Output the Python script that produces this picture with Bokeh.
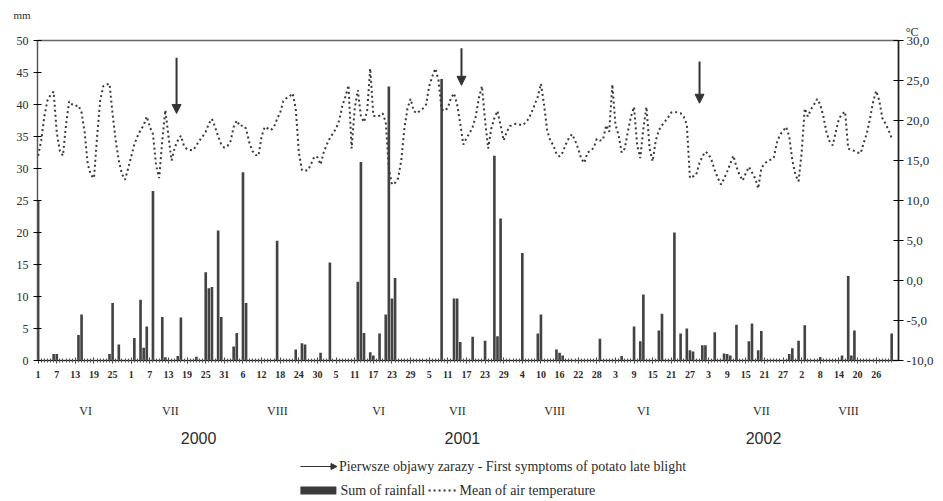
from bokeh.plotting import figure
from bokeh.layouts import column
from bokeh.models import Range1d, LinearAxis, FixedTicker, Arrow, NormalHead, ColumnDataSource, Title
from bokeh.core.properties import value
from bokeh.embed import file_html
from bokeh.resources import INLINE

# ---------------- data ----------------
# daily rainfall (mm), 1 June - 31 August
rain_2000 = [25.0, 0, 0, 0, 0, 1.0, 1.0, 0, 0, 0,
             0, 0, 0, 4.0, 7.2, 0, 0, 0, 0, 0,
             0, 0, 0, 1.0, 9.0, 0, 2.5, 0, 0, 0,
             0, 3.5, 0, 9.5, 2.0, 5.3, 0, 26.5, 0, 0,
             6.8, 0.5, 0, 0, 0, 0.7, 6.7, 0, 0, 0,
             0, 0.6, 0, 0, 13.8, 11.3, 11.5, 0, 20.3, 6.8,
             0, 0, 0, 2.2, 4.3, 0, 29.4, 9.0, 0, 0,
             0, 0, 0, 0, 0, 0, 0, 18.7, 0, 0,
             0, 0, 0, 1.7, 0, 2.7, 2.5, 0, 0, 0,
             0, 1.2]
rain_2001 = [0, 0, 15.3, 0, 0, 0, 0, 0, 0, 0,
             0, 12.3, 31.0, 4.3, 0, 1.3, 0.8, 0, 4.2, 0,
             7.2, 42.8, 9.7, 12.9, 0, 0, 0, 0, 0, 0,
             0, 0, 0, 0, 0, 0, 0, 0, 44.0, 0,
             0, 0, 9.7, 9.7, 2.9, 0, 0, 0, 3.7, 0,
             0, 0, 3.1, 0, 0, 32.0, 3.8, 22.2, 0, 0,
             0, 0, 0, 0, 16.8, 0, 0, 0, 0, 4.2,
             7.2, 0, 0, 0, 0, 1.7, 1.2, 0.8, 0, 0,
             0, 0, 0, 0, 0, 0, 0, 0, 0, 3.4,
             0, 0]
rain_2002 = [0, 0, 0, 0, 0.7, 0, 0, 0, 5.3, 0,
             3.0, 10.3, 0, 0, 0, 0, 4.7, 7.3, 0, 0,
             0, 20.0, 0, 4.2, 0, 5.0, 1.6, 1.4, 0, 0,
             2.4, 2.4, 0, 0, 4.4, 0, 0, 1.1, 1.0, 0.8,
             0, 5.6, 0, 0, 0, 3.0, 5.8, 0, 1.6, 4.6,
             0, 0, 0, 0, 0, 0, 0, 0, 1.0, 1.9,
             0, 3.1, 0, 5.5, 0, 0, 0, 0, 0.5, 0,
             0, 0, 0, 0, 0, 0.8, 0, 13.2, 0.8, 4.7,
             0, 0, 0, 0, 0, 0, 0, 0, 0, 0,
             0, 4.2]

# daily mean air temperature (deg C)
temp_2000 = [15.6, 17.5, 20.5, 22.5, 23.2, 23.6, 18.5, 16.2, 15.6, 19.5,
             22.4, 22.0, 21.8, 21.9, 21.0, 18.5, 14.5, 13.2, 12.8, 18.0,
             22.5, 24.3, 24.5, 24.6, 20.8, 17.5, 15.0, 13.3, 12.6, 14.0,
             15.5, 17.0, 18.0, 18.8, 19.4, 20.5, 19.2, 18.3, 14.4, 12.8,
             17.5, 21.3, 18.0, 15.0, 16.6, 17.5, 18.1, 16.8, 16.4, 16.3,
             16.3, 16.9, 17.5, 18.0, 18.6, 19.6, 20.2, 19.2, 18.0, 17.0,
             16.6, 16.8, 17.4, 19.2, 20.0, 19.3, 19.4, 19.0, 17.3, 16.2,
             15.7, 15.6, 18.0, 19.2, 19.0, 18.8, 19.2, 20.2, 21.0, 22.4,
             22.8, 23.0, 23.4, 21.5, 16.0, 13.8, 13.7, 13.8, 14.6, 15.5,
             15.4, 14.5]
temp_2001 = [16.0, 17.0, 17.8, 18.4, 19.0, 20.0, 21.8, 23.0, 24.4, 16.5,
             21.5, 23.8, 20.5, 19.8, 21.2, 26.5, 20.6, 20.5, 20.6, 20.9,
             19.8, 14.0, 12.0, 12.2, 12.8, 15.0, 19.0, 21.5, 22.7, 21.2,
             20.9, 21.2, 21.5, 22.0, 24.3, 25.5, 26.5, 25.0, 21.4, 21.2,
             21.6, 22.8, 23.4, 22.0, 19.6, 17.0, 17.8, 18.4, 19.2, 20.5,
             22.8, 24.3, 20.0, 16.5, 19.0, 20.3, 21.2, 19.4, 17.5, 18.6,
             19.3, 19.5, 19.6, 19.5, 19.4, 19.7, 20.2, 21.0, 22.0, 23.0,
             24.6, 22.0, 18.8, 17.5, 16.9, 15.8, 15.5, 16.0, 17.0, 17.8,
             18.3, 17.5, 16.5, 15.2, 14.7, 16.0, 16.2, 16.6, 17.7, 17.5,
             17.6, 19.4]
temp_2002 = [18.6, 24.5, 19.5, 18.2, 16.0, 16.5, 18.6, 20.5, 21.7, 16.9,
             15.3, 19.0, 21.7, 16.5, 14.9, 17.5, 18.8, 19.4, 19.9, 20.4,
             21.0, 21.1, 21.0, 20.9, 20.5, 19.5, 12.8, 13.0, 13.2, 14.6,
             15.5, 16.1, 15.8, 15.0, 13.8, 12.8, 12.0, 12.7, 13.6, 14.6,
             15.6, 14.2, 13.2, 12.5, 13.4, 14.2, 13.5, 12.8, 11.5, 14.0,
             14.6, 14.9, 15.1, 15.3, 17.2, 18.2, 18.7, 19.2, 18.0, 15.0,
             13.2, 12.4, 16.0, 21.5, 20.5, 21.4, 22.0, 22.7, 22.0, 20.5,
             18.5, 17.4, 16.9, 18.6, 20.2, 20.8, 21.1, 16.5, 16.3, 16.2,
             16.0, 15.9, 17.2, 18.4, 20.2, 22.3, 23.7, 22.5, 20.3, 19.6,
             18.8, 17.8]

# day-of-month labels every 6th day
x_tick_labels = ["1", "7", "13", "19", "25", "1", "7", "13", "19", "25", "31",
                 "6", "12", "18", "24", "30",
                 "5", "11", "17", "23", "29", "5", "11", "17", "23", "29",
                 "4", "10", "16", "22", "28",
                 "3", "9", "15", "21", "27", "3", "9", "15", "21", "27",
                 "2", "8", "14", "20", "26"]
months = ["VI", "VII", "VIII", "VI", "VII", "VIII", "VI", "VII", "VIII"]
month_pos = [16.3, 43.6, 78.1, 110.7, 136.1, 167.4, 196.0, 234.0, 262.1]
years = ["2000", "2001", "2002"]
year_pos = [52.7, 137.7, 234.7]
# first symptoms of potato late blight (day index; arrow top and tip on the mm scale)
symptom_day = [45.6, 137.4, 214.1]
symptom_top = [47.3, 48.8, 46.7]
symptom_tip = [38.6, 43.0, 40.2]

left_ticks = [0, 5, 10, 15, 20, 25, 30, 35, 40, 45, 50]
right_ticks = [-10, -5, 0, 5, 10, 15, 20, 25, 30]
right_labels = ["-10,0", "-5,0", "0,0", "5,0", "10,0", "15,0", "20,0", "25,0", "30,0"]

# ---------------- build ----------------
rain = rain_2000 + rain_2001 + rain_2002
temp = temp_2000 + temp_2001 + temp_2002
days = list(range(1, len(rain) + 1))
src = ColumnDataSource(dict(day=days, rain=rain, temp=temp))

SERIF = "Liberation Serif"
INK = "#2b2b2b"
W = 943
MAIN_H, BOT_H = 400, 101

xr = Range1d(0.8, 278.2)

# ---- main chart ----
p = figure(width=W, height=MAIN_H, x_range=xr, y_range=Range1d(0, 50),
           output_backend="svg", toolbar_location=None,
           min_border_left=37, min_border_right=45, min_border_top=40, min_border_bottom=40)
p.extra_y_ranges = {"temp": Range1d(-10, 30)}
p.xgrid.visible = False
p.ygrid.visible = False
p.outline_line_color = "#666666"
p.outline_line_width = 1.5

# unit labels above the axes
p.add_layout(Title(text="°C", align="right", offset=-20, standoff=3, text_font=SERIF,
                   text_font_size="12px", text_font_style="normal", text_color=INK), "above")
p.add_layout(Title(text="mm", align="left", offset=-24, standoff=1, text_font=SERIF,
                   text_font_size="11px", text_font_style="normal", text_color=INK), "above")

p.vbar(x="day", top="rain", width=0.85, source=src, fill_color="#434343", line_color=None)
p.line(x="day", y="temp", source=src, y_range_name="temp", line_color="#3a3a3a",
       line_width=2, line_dash="2 3")

tick_days = list(range(1, 1 + 6 * len(x_tick_labels), 6))
xa = p.xaxis[0]
xa.ticker = FixedTicker(ticks=tick_days, minor_ticks=days)
xa.major_label_overrides = {d: lab for d, lab in zip(tick_days, x_tick_labels)}
xa.major_label_text_font = SERIF
xa.major_label_text_font_size = "10px"
xa.major_label_text_font_style = "bold"
xa.major_label_text_color = INK
xa.major_label_standoff = 7
xa.axis_line_color = "#222222"
xa.major_tick_in = 3
xa.major_tick_out = 3
xa.minor_tick_in = 2
xa.minor_tick_out = 2
xa.major_tick_line_color = "#333333"
xa.minor_tick_line_color = "#555555"

ya = p.yaxis[0]
ya.ticker = FixedTicker(ticks=left_ticks)
ya.major_label_text_font = SERIF
ya.major_label_text_font_size = "12px"
ya.major_label_text_color = INK
ya.major_tick_in = 4
ya.major_tick_out = 4
ya.minor_tick_line_color = None
ya.axis_line_color = "#555555"
ya.major_label_standoff = 5

ra = LinearAxis(y_range_name="temp", ticker=FixedTicker(ticks=right_ticks))
ra.major_label_overrides = {v: s for v, s in zip(right_ticks, right_labels)}
ra.major_label_text_font = SERIF
ra.major_label_text_font_size = "13px"
ra.major_label_text_color = INK
ra.major_tick_in = 5
ra.major_tick_out = 5
ra.minor_tick_line_color = None
ra.axis_line_color = "#222222"
ra.axis_line_width = 1.5
ra.major_label_standoff = 3
p.add_layout(ra, "right")

for d, y0, y1 in zip(symptom_day, symptom_top, symptom_tip):
    p.add_layout(Arrow(x_start=d, y_start=y0, x_end=d, y_end=y1, line_width=2, line_color="#333333",
                       end=NormalHead(size=9, fill_color="#333333", line_color="#333333")))

# ---- bottom strip: months, years, legend ----
bot = figure(width=W, height=BOT_H, x_range=xr, y_range=Range1d(BOT_H, 0),
             x_axis_type=None, y_axis_type=None, output_backend="svg", toolbar_location=None,
             min_border_left=37, min_border_right=45, min_border_top=0, min_border_bottom=0)
bot.outline_line_color = None
bot.grid.visible = False

bot.text(x=month_pos, y=[10] * len(months), text=months, text_font=value(SERIF),
         text_font_size="12px", text_color=INK, text_align="center", text_baseline="middle")
bot.text(x=year_pos, y=[37] * len(years), text=years, text_font=value("Liberation Sans"),
         text_font_size="16px", text_color=INK, text_align="center", text_baseline="middle")

bot.add_layout(Arrow(x_start=85.5, y_start=66, x_end=97.3, y_end=66, line_width=1.2, line_color="#333333",
                     end=NormalHead(size=6, fill_color="#333333", line_color="#333333")))
bot.text(x=[97.9], y=[66], text=["Pierwsze objawy zarazy - First symptoms of potato late blight"],
         text_font=value(SERIF), text_font_size="14px", text_color=INK, text_baseline="middle")
bot.quad(left=[85.5], right=[97.1], top=[86], bottom=[94], fill_color="#3a3a3a", line_color=None)
bot.text(x=[98.4], y=[90], text=["Sum of rainfall"], text_font=value(SERIF), text_font_size="14px",
         text_color=INK, text_baseline="middle")
bot.line(x=[126.8, 135.5], y=[90, 90], line_width=2, line_color="#333333", line_dash="2 3")
bot.text(x=[136.8], y=[90], text=["Mean of air temperature"], text_font=value(SERIF),
         text_font_size="14px", text_color=INK, text_baseline="middle")

layout = column(p, bot, spacing=0)
open("out.html", "w").write(file_html(layout, INLINE))
